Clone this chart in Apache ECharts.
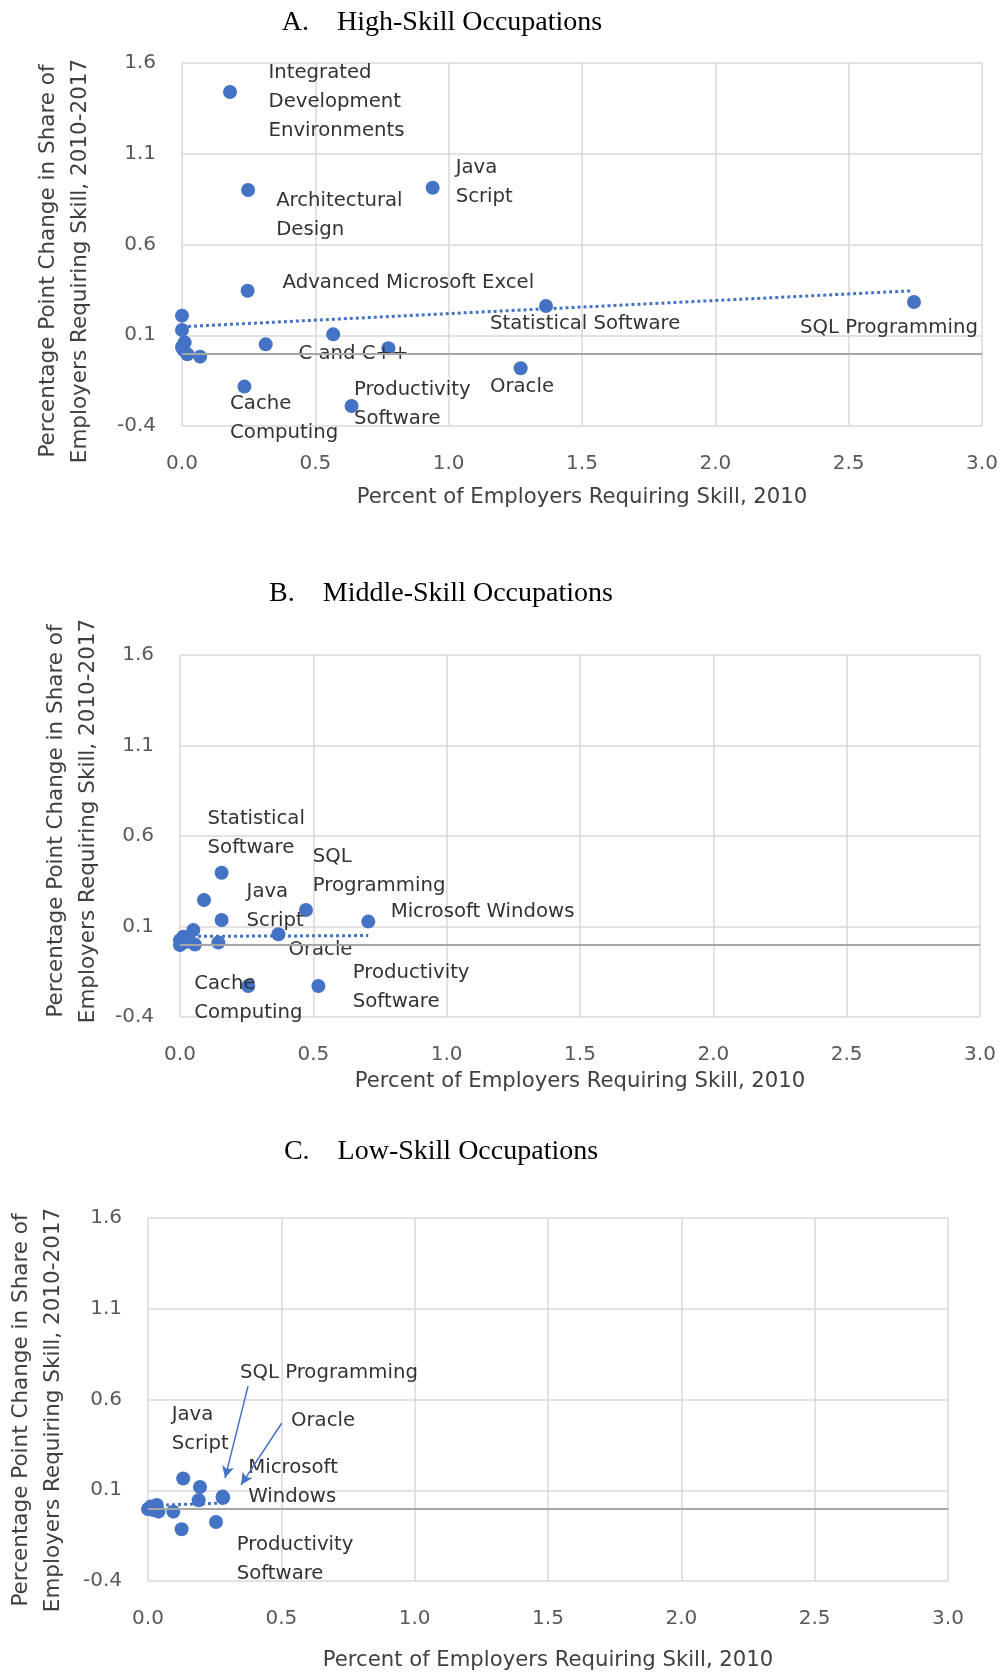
<!DOCTYPE html>
<html><head><meta charset="utf-8">
<script src="https://cdn.jsdelivr.net/npm/echarts@6/dist/echarts.min.js"></script>
<style>html,body{margin:0;padding:0;background:#fff}#chart{width:1007px;height:1678px}</style>
</head><body><div id="chart"></div>
<script>
// ---------- tick labels & texts ----------
const xTicks = [0, 0.5, 1, 1.5, 2, 2.5, 3];
const yTicks = [-0.4, 0.1, 0.6, 1.1, 1.6];
const panelTitles = ['A.\u2003High-Skill Occupations', 'B.\u2003Middle-Skill Occupations', 'C.\u2003Low-Skill Occupations'];
const xAxisTitle = 'Percent of Employers Requiring Skill, 2010';
const yAxisTitle = 'Percentage Point Change in Share of\nEmployers Requiring Skill, 2010-2017';

// ---------- Panel A: High-skill ----------
const skillsA = ['Integrated\nDevelopment\nEnvironments', 'Architectural\nDesign', 'Java\nScript', 'Advanced Microsoft Excel',
  'Statistical Software', 'SQL Programming', '', '', '', '', 'C and C++', '', '', '', '', '', 'Oracle', 'Cache\nComputing', 'Productivity\nSoftware'];
const share2010A = [0.18, 0.248, 0.94, 0.246, 1.365, 2.745, 0.0, 0.0, 0.567, 0.314, 0.774, 0.068, 0.01, 0.005, 0.02, 0.0, 1.27, 0.234, 0.636];
const changeA   = [1.44, 0.90, 0.913, 0.345, 0.261, 0.283, 0.208, 0.129, 0.105, 0.050, 0.028, -0.018, 0.06, 0.02, -0.005, 0.035, -0.082, -0.183, -0.29];
const trendXA = [0, 2.74];
const trendYA = [0.147, 0.345];

// ---------- Panel B: Middle-skill ----------
const skillsB = ['Statistical\nSoftware', '', 'Java\nScript', 'SQL\nProgramming', 'Microsoft Windows', 'Oracle', '',
  '', '', '', '', '', '', 'Cache\nComputing', 'Productivity\nSoftware'];
const share2010B = [0.156, 0.09, 0.156, 0.4725, 0.706, 0.369, 0.144, 0.0, 0.0125, 0.05, 0.056, 0.0, 0.025, 0.256, 0.519];
const changeB   = [0.397, 0.246, 0.136, 0.191, 0.127, 0.057, 0.011, 0.025, 0.044, 0.08, 0.0, -0.002, 0.016, -0.229, -0.229];
const trendXB = [0, 0.706];
const trendYB = [0.045, 0.05];

// ---------- Panel C: Low-skill ----------
const skillsC = ['Java\nScript', '', '', 'Microsoft\nWindows', 'SQL Programming', 'Oracle', '', '', 'Productivity\nSoftware',
  '', '', '', '', '', ''];
const share2010C = [0.132, 0.195, 0.19, 0.28, 0.28, 0.282, 0.095, 0.126, 0.255, 0.0075, 0.033, 0.039, 0.0, 0.02, 0.01];
const changeC   = [0.165, 0.118, 0.045, 0.06, 0.065, 0.058, -0.018, -0.115, -0.075, 0.0, 0.019, -0.018, -0.003, -0.009, 0.01];
const trendXC = [0, 0.28];
const trendYC = [0.015, 0.03];

// ---------- annotation layout (label offsets in px from the dot centre, first line centre) ----------
const labelOffsets = [
  {'Integrated\nDevelopment\nEnvironments': [38.5, -19], 'Architectural\nDesign': [28, 10.5], 'Java\nScript': [23, -19.5],
   'Advanced Microsoft Excel': [35, -7.4], 'Statistical Software': [-56, 18], 'SQL Programming': [-114, 25.5],
   'C and C++': [-90, 5.7], 'Oracle': [-30.7, 18.4], 'Cache\nComputing': [-14.3, 17.5], 'Productivity\nSoftware': [2.3, -16]},
  {'Statistical\nSoftware': [-14, -54], 'Java\nScript': [25, -28.3], 'SQL\nProgramming': [6.7, -53.3], 'Microsoft Windows': [22.4, -10],
   'Oracle': [10, 15.7], 'Productivity\nSoftware': [34.4, -13.3], 'Cache\nComputing': [-54, -2]},
  {'Java\nScript': [-11.5, -63.5], 'Microsoft\nWindows': [25.6, -29.2], 'SQL Programming': [17.3, -123.3], 'Oracle': [67.8, -77.2],
   'Productivity\nSoftware': [20.7, 22.5]}
];
// arrows in panel C (data units: from label to near the point)
const arrowsC = [
  {from: [0.375, 0.674], to: [0.289, 0.167]},
  {from: [0.501, 0.469], to: [0.349, 0.13]}
];

const grids = [
  {left: 182, top: 63, width: 800, height: 363},
  {left: 180, top: 655, width: 800, height: 362},
  {left: 148, top: 1218, width: 800, height: 363}
];
const xNameGaps = [61, 54, 69];
const xLabelMargins = [28, 28, 28];
const titlePos = [[442, 23], [441, 594], [441, 1152]];
const yTitlePos = [[64, 261], [72, 821], [37.5, 1410]];

const SANS = 'DejaVu Sans';
const FS_LABEL = 19.7;
const FS_TICK = 20;
const FS_NAME = 21.2;
const BLUE = '#4472C4';
const SYM = 14;
const LH = 29;

function makeLabel(name, offsets) {
  if (!name || !offsets[name]) return {show: false};
  const o = offsets[name];
  return {
    show: true,
    position: [o[0] + SYM / 2, o[1] - LH / 2 + SYM / 2],
    align: 'left', verticalAlign: 'top',
    formatter: name,
    fontFamily: SANS, fontSize: FS_LABEL, lineHeight: LH, color: '#333333'
  };
}

const panels = [
  {names: skillsA, xs: share2010A, ys: changeA, tx: trendXA, ty: trendYA},
  {names: skillsB, xs: share2010B, ys: changeB, tx: trendXB, ty: trendYB},
  {names: skillsC, xs: share2010C, ys: changeC, tx: trendXC, ty: trendYC}
];

const xAxes = [], yAxes = [], series = [], graphics = [];
panels.forEach((p, i) => {
  xAxes.push({
    gridIndex: i, type: 'value', min: 0, max: 3,
    name: xAxisTitle, nameLocation: 'middle', nameGap: xNameGaps[i],
    nameTextStyle: {fontFamily: SANS, fontSize: FS_NAME, color: '#404040'},
    axisLine: {show: false},
    axisTick: {show: false, customValues: xTicks},
    axisLabel: {customValues: xTicks, formatter: v => v.toFixed(1), margin: xLabelMargins[i],
      fontFamily: SANS, fontSize: FS_TICK, color: '#595959'},
    splitLine: {show: true, lineStyle: {color: '#d9d9d9', width: 1.5}}
  });
  yAxes.push({
    gridIndex: i, type: 'value', min: -0.4, max: 1.6,
    axisLine: {show: false},
    axisTick: {show: false, customValues: yTicks},
    axisLabel: {customValues: yTicks, formatter: v => v.toFixed(1), margin: 26,
      fontFamily: SANS, fontSize: FS_TICK, color: '#595959'},
    splitLine: {show: true, lineStyle: {color: '#d9d9d9', width: 1.5}}
  });
  series.push({
    type: 'scatter', xAxisIndex: i, yAxisIndex: i, symbolSize: SYM, z: 3,
    itemStyle: {color: BLUE, opacity: 1},
    data: p.xs.map((x, j) => ({value: [x, p.ys[j]], name: p.names[j], label: makeLabel(p.names[j], labelOffsets[i])})),
    markLine: {
      silent: true, symbol: ['none', 'none'], label: {show: false}, animation: false,
      lineStyle: {color: '#a6a6a6', width: 2, type: 'solid'},
      data: [{yAxis: 0}]
    },
    emphasis: {disabled: true}
  });
  const trend = {
    type: 'line', xAxisIndex: i, yAxisIndex: i, z: 4, silent: true, symbol: 'none',
    lineStyle: {color: BLUE, width: 3, type: [3, 3]},
    data: p.tx.map((x, j) => [x, p.ty[j]])
  };
  if (i === 2) {
    trend.markLine = {
      silent: true, animation: false, label: {show: false},
      lineStyle: {color: BLUE, width: 1.5, type: 'solid'},
      symbol: ['none', 'arrow'], symbolSize: [9, 12],
      data: arrowsC.map(a => [{coord: a.from}, {coord: a.to}])
    };
  }
  series.push(trend);
  graphics.push({
    type: 'text', x: titlePos[i][0], y: titlePos[i][1],
    style: {text: panelTitles[i], align: 'center', verticalAlign: 'middle',
      fontFamily: 'Liberation Serif', fontSize: 28, fill: '#000'}
  });
  graphics.push({
    type: 'text', x: yTitlePos[i][0], y: yTitlePos[i][1], rotation: Math.PI / 2,
    style: {text: yAxisTitle, align: 'center', verticalAlign: 'middle', lineHeight: 32,
      fontFamily: SANS, fontSize: 21.5, fill: '#404040'}
  });
});

const chart = echarts.init(document.getElementById('chart'), null, {renderer: 'canvas'});
chart.setOption({
  animation: false,
  backgroundColor: '#ffffff',
  grid: grids,
  xAxis: xAxes,
  yAxis: yAxes,
  series: series,
  graphic: graphics
});
</script>
</body></html>
